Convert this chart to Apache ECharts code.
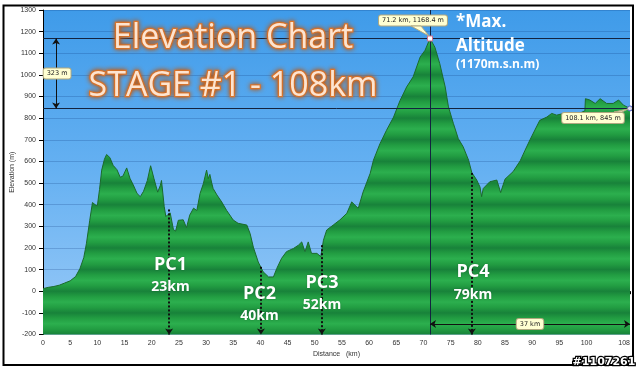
<!DOCTYPE html>
<html>
<head>
<meta charset="utf-8">
<script src="https://cdn.jsdelivr.net/npm/echarts@6/dist/echarts.min.js"></script>
<style>html,body{margin:0;padding:0;background:#fff}#c{width:640px;height:370px}</style>
</head>
<body>
<div id="c"></div>
<script>
// ---- data ----
const km = [0,1,2,3,4,5,6,6.8,7.5,8.0,8.6,9.1,9.3,9.6,10.0,10.4,10.8,11.3,11.7,12.0,12.3,12.9,13.6,14.2,14.7,15.4,16.0,16.6,17.3,17.9,18.5,19.2,19.8,20.4,21.1,21.6,21.8,22.3,22.6,23.0,23.4,24.0,24.4,24.9,25.8,26.4,27.0,27.7,28.3,28.9,29.5,30.1,30.4,30.7,31.0,31.3,32.0,32.9,33.8,35.0,35.9,37.5,38.1,38.7,39.6,40.5,41.5,42.4,43.0,43.9,44.8,46.1,47.0,47.6,48.2,48.8,49.4,50.4,51.1,51.6,52.2,53.4,54.6,55.9,56.8,58.0,58.9,60.2,60.8,62.0,63.2,64.5,65.7,66.9,68.1,69.4,70.3,71.2,72.1,73.0,74.0,74.6,75.5,76.4,77.3,78.3,78.9,79.8,80.4,80.7,81.0,82.2,83.5,84.2,85.0,86.5,87.8,88.7,89.6,90.5,91.4,92.7,93.6,94.5,95.5,96.5,97.5,98.5,99.7,99.8,100.6,101.6,102.5,103.7,104.9,105.9,106.8,108];
const elev = [12,18,22,28,38,48,68,105,155,222,328,410,415,400,395,470,560,610,632,628,618,582,562,527,532,570,522,492,452,437,462,512,580,522,458,490,512,392,345,355,362,285,278,328,330,294,352,384,373,452,497,560,520,540,505,475,445,412,373,329,314,306,267,204,135,90,66,66,105,152,183,198,213,228,183,228,175,175,160,236,283,306,329,360,413,383,459,545,606,682,744,805,882,944,991,1083,1114,1168.4,1128,1052,944,852,776,706,668,606,548,514,482,437,475,506,514,456,518,553,603,652,700,745,790,805,822,814,820,812,825,820,834,890,884,868,890,868,868,884,860,845];
const xTicks = [0,5,10,15,20,25,30,35,40,45,50,55,60,65,70,75,80,85,90,95,100,108];
const pcNames = ['PC1','PC2','PC3','PC4'];
const pcDist = ['23km','40km','52km','79km'];
const pcKm = [23.2,40.1,51.3,78.9];
const pcTop = [378,113,213,547];
const maxKm = 71.2, maxElev = 1168.4;
const endKm = 108, endKmLabel = 108.1, endElev = 845;
const climbLabel = '323 m';
const spanLabel = '37 km';
const titleLines = ['Elevation Chart','STAGE #1 - 108km'];
const maxText = ['*Max.','Altitude','(1170m.s.n.m)'];

const profile = km.map((k,i)=>[k, elev[i]]);

// ---- styles ----
const G = echarts.graphic;
const stops = [];
const nb = 15;
for (let i=0;i<nb;i++){
  const b=i/nb, w=1/nb;
  stops.push({offset:b,color:'#18823a'});
  stops.push({offset:b+w*0.25,color:'#229d42'});
  stops.push({offset:b+w*0.5,color:'#2caf4e'});
  stops.push({offset:b+w*0.75,color:'#229d42'});
}
stops.push({offset:1,color:'#18823a'});
const areaFill = new G.LinearGradient(0,10,0,334.5,stops,true);
const skyFill = new G.LinearGradient(0,0,0,1,[{offset:0,color:'#3f9be9'},{offset:0.5,color:'#66b1f2'},{offset:1,color:'#9acaf7'}]);

const boxLabel = {show:true,fontSize:6.5,fontFamily:'DejaVu Sans',color:'#222',backgroundColor:'#ffffd2',borderColor:'#b0a880',borderWidth:1,borderRadius:2,padding:[2,3,1,3]};

const pcGraphics = [];
const pcPos = [[170.5,276],[259.5,305],[322,294],[473,283.5]];
pcNames.forEach((n,i)=>{
  pcGraphics.push({type:'text',x:pcPos[i][0],y:pcPos[i][1],z:50,style:{
    text:'{a|'+n+'}\n{b|'+pcDist[i]+'}',align:'center',verticalAlign:'middle',
    rich:{a:{fontSize:18,fontWeight:'bold',fontFamily:'Open Sans',fill:'#fff',lineHeight:23},
          b:{fontSize:14,fontWeight:'bold',fontFamily:'Open Sans',fill:'#fff',lineHeight:23}},
    textShadowColor:'rgba(0,0,0,0.25)',textShadowBlur:2}});
});

const chart = echarts.init(document.getElementById('c'),null,{renderer:'canvas'});
chart.setOption({
  animation:false,
  backgroundColor:'#fff',
  grid:{left:43,right:10,top:10,bottom:35.5,show:true,backgroundColor:skyFill,borderWidth:0,outerBoundsMode:'none',containLabel:false},
  xAxis:{type:'value',min:0,max:108,
    name:'Distance   (km)',nameLocation:'middle',nameGap:16,nameMoveOverlap:false,
    nameTextStyle:{fontSize:7,fontFamily:'Liberation Sans',color:'#333'},
    axisLine:{show:true,lineStyle:{color:'#000',width:1}},
    axisTick:{show:true,length:3,customValues:xTicks,lineStyle:{color:'#000'}},
    axisLabel:{customValues:xTicks,fontSize:7,fontFamily:'Liberation Sans',color:'#333',margin:5,alignMaxLabel:'right',formatter:v=>String(v)},
    splitLine:{show:false}},
  yAxis:{type:'value',min:-200,max:1300,interval:100,
    name:'Elevation (m)',nameLocation:'middle',nameGap:27,nameMoveOverlap:false,
    nameTextStyle:{fontSize:7,fontFamily:'Liberation Sans',color:'#333'},
    axisLine:{show:true,lineStyle:{color:'#000',width:1}},
    axisTick:{show:true,length:4,lineStyle:{color:'#000'}},
    axisLabel:{fontSize:7,fontFamily:'Liberation Sans',color:'#333',margin:7,formatter:v=>String(v)},
    splitLine:{show:true,lineStyle:{color:'rgba(0,40,110,0.2)',width:1}}},
  series:[
    {type:'line',data:profile,showSymbol:false,symbol:'none',z:2,
     lineStyle:{color:'#1b6a2b',width:1},areaStyle:{color:areaFill,opacity:1,origin:'start'},
     markLine:{silent:true,symbol:['none','none'],label:{show:false},
       lineStyle:{color:'#13233f',width:1,type:'solid'},
       data:[{yAxis:maxElev},{yAxis:endElev},{xAxis:maxKm}]},
     markPoint:{silent:true,data:[
       {coord:[maxKm,maxElev],symbol:'rect',symbolSize:5,itemStyle:{color:'#fff',borderColor:'#d07090',borderWidth:1},
        label:Object.assign({},boxLabel,{position:'inside',offset:[-17,-18],formatter:maxKm+' km, '+maxElev+' m'})},
       {coord:[endKm,endElev],symbol:'circle',symbolSize:5,itemStyle:{color:'#dde',borderColor:'#5060c0',borderWidth:1},
        label:Object.assign({},boxLabel,{position:'inside',offset:[-37,9.5],formatter:endKmLabel+' km, '+endElev+' m'})}
     ]}},
    {type:'line',data:[],z:5,
     markLine:{silent:true,symbol:['arrow','arrow'],symbolSize:6,label:{show:false},
       lineStyle:{color:'#111',width:1,type:'solid'},
       data:[[{coord:[2.4,maxElev]},{coord:[2.4,endElev]}],[{coord:[maxKm,-151]},{coord:[endKm,-151]}]]},
     markPoint:{silent:true,symbolSize:0,data:[
       {coord:[2.6,1006],label:Object.assign({},boxLabel,{position:'inside',formatter:climbLabel})},
       {coord:[89.6,-151],label:Object.assign({},boxLabel,{position:'inside',formatter:spanLabel})}
     ]}},
    {type:'line',data:[],z:5,
     markLine:{silent:true,symbol:['none','arrow'],symbolSize:6,label:{show:false},
       lineStyle:{color:'#111',width:2,type:'dotted'},
       data:pcKm.map((k,i)=>[{coord:[k,pcTop[i]]},{coord:[k,-200]}])}}
  ],
  graphic:[
    {type:'text',x:233,y:38,z:50,style:{text:titleLines[0],align:'center',verticalAlign:'middle',
      font:'34px "Open Sans"',fill:'#fde4d0',stroke:'#e07a30',lineWidth:2.5,textShadowColor:'#b85a18',textShadowBlur:5}},
    {type:'text',x:233,y:86,z:50,style:{text:titleLines[1],align:'center',verticalAlign:'middle',
      font:'34px "Open Sans"',fill:'#fde4d0',stroke:'#e07a30',lineWidth:2.5,textShadowColor:'#b85a18',textShadowBlur:5}},
    {type:'text',x:456,y:22,z:50,style:{text:maxText[0],align:'left',verticalAlign:'middle',font:'bold 17px "Open Sans"',fill:'#fff'}},
    {type:'text',x:456,y:46,z:50,style:{text:maxText[1],align:'left',verticalAlign:'middle',font:'bold 17px "Open Sans"',fill:'#fff'}},
    {type:'text',x:456,y:65,z:50,style:{text:maxText[2],align:'left',verticalAlign:'middle',font:'bold 12px "Open Sans"',fill:'#fff'}},
    ...pcGraphics,
    {type:'polygon',z:40,shape:{points:[[411,26],[421,26],[429,36]]},style:{fill:'#ffffd2',stroke:'#b0a880',lineWidth:1}},
    {type:'polygon',z:40,shape:{points:[[614,112],[622,112],[628,109]]},style:{fill:'#ffffd2',stroke:'#b0a880',lineWidth:1}},
    {type:'rect',z:60,shape:{x:3.5,y:5.5,width:629.5,height:359.5},style:{fill:'none',stroke:'#000',lineWidth:2}},
    {type:'text',x:604,y:362,z:70,style:{text:'#1107261',align:'center',verticalAlign:'middle',font:'bold 11px "DejaVu Sans"',fill:'#fff',stroke:'#000',lineWidth:2.5}}
  ]
});
</script>
</body>
</html>
